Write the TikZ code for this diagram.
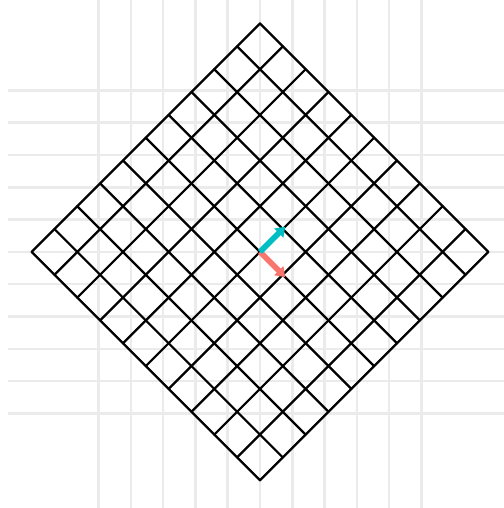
\documentclass[tikz,border=0pt]{standalone}
\usepackage{tikz}
\usetikzlibrary{arrows.meta}
\definecolor{panelGrid}{RGB}{235,235,235}
\definecolor{vecTeal}{RGB}{0,191,196}
\definecolor{vecSalmon}{RGB}{248,118,109}
\tikzset{
  bggrid/.style={draw=panelGrid, line width=2.2pt},
  meshline/.style={draw=black, line width=2pt, line cap=round, line join=miter},
  basisvec/.style={-{Triangle[length=8pt,width=11pt]}, line width=5pt, #1},
}
\begin{document}
\begin{tikzpicture}
  \useasboundingbox (-8.05,-7.93) rectangle (7.55,7.80);

  % light panel grid
  \foreach \k in {-5,...,5} {
    \draw[bggrid] (\k,-7.93) -- (\k,7.80);
    \draw[bggrid] (-7.80,\k) -- (7.55,\k);
  }

  % rotated mesh
  \begin{scope}[rotate=45]
    \foreach \k in {-5,...,5} {
      \draw[meshline] (\k,-5) -- (\k,5);
      \draw[meshline] (-5,\k) -- (5,\k);
    }
  \end{scope}

  % basis vectors
  \coordinate (orig) at (0,0);
  \coordinate (eone) at (0.78,0.78);
  \coordinate (etwo) at (0.78,-0.78);
  \draw[basisvec=vecSalmon] (orig) -- (etwo);
  \draw[basisvec=vecTeal]   (orig) -- (eone);
\end{tikzpicture}
\end{document}
